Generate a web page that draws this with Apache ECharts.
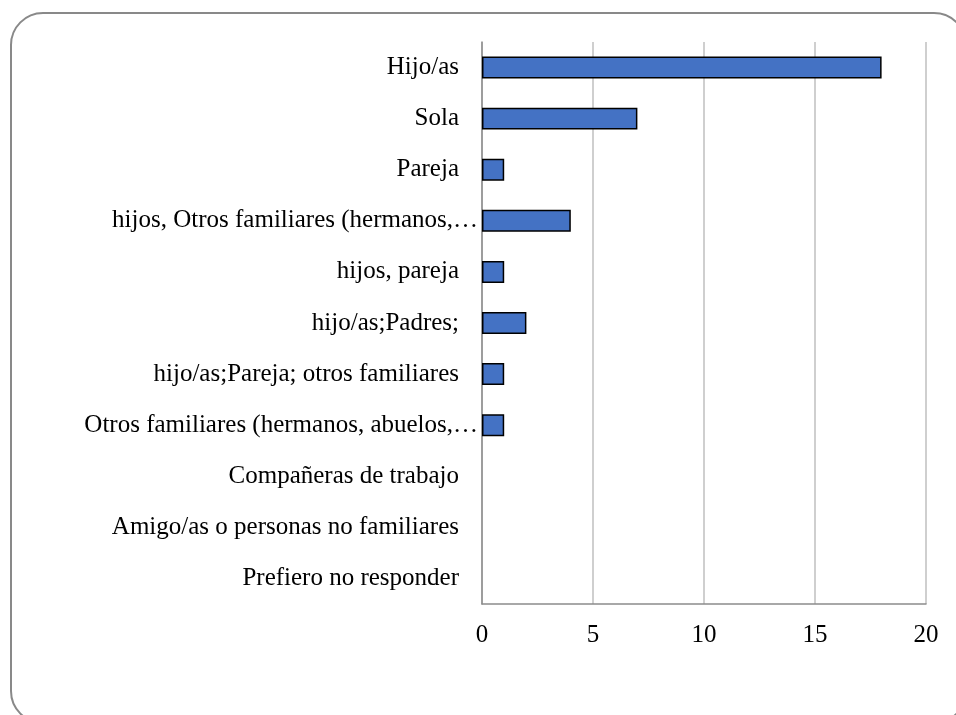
<!DOCTYPE html>
<html>
<head>
<meta charset="utf-8">
<script src="https://cdn.jsdelivr.net/npm/echarts@6/dist/echarts.min.js"></script>
<style>
  html, body { margin: 0; padding: 0; background: #fff; }
  #chart { width: 956px; height: 715px; }
</style>
</head>
<body>
<div id="chart"></div>
<script>
// categories top to bottom, as in the picture
const categories = [
  'Hijo/as',
  'Sola',
  'Pareja',
  'hijos, Otros familiares (hermanos,…',
  'hijos, pareja',
  'hijo/as;Padres;',
  'hijo/as;Pareja; otros familiares',
  'Otros familiares (hermanos, abuelos,…',
  'Compañeras de trabajo',
  'Amigo/as o personas no familiares',
  'Prefiero no responder'
]
const counts = [18, 7, 1, 4, 1, 2, 1, 1, 0, 0, 0]
const xTicks = [0, 5, 10, 15, 20]

const chart = echarts.init(document.getElementById('chart'))

const font = 'Liberation Serif'

const option = {
  backgroundColor: '#fff',
  animation: false,
  graphic: [
    {
      type: 'rect',
      shape: { x: 11, y: 13, width: 955, height: 710, r: 32 },
      style: { fill: 'none', stroke: '#898989', lineWidth: 2 },
      silent: true
    }
  ],
  grid: { left: 482, right: 30, top: 42, bottom: 111 },
  xAxis: {
    type: 'value',
    min: xTicks[0],
    max: xTicks[xTicks.length - 1],
    interval: 5,
    axisLine: { show: true, lineStyle: { color: '#8c8c8c', width: 1.5 } },
    axisTick: { show: false },
    splitLine: { show: true, lineStyle: { color: '#bfbfbf', width: 1.5 } },
    axisLabel: { margin: 19, color: '#000', fontFamily: font, fontSize: 25 }
  },
  yAxis: {
    type: 'category',
    inverse: true,
    data: categories,
    axisLine: { show: true, lineStyle: { color: '#8c8c8c', width: 1.5 } },
    axisTick: { show: false },
    axisLabel: {
      margin: 4,
      color: '#000',
      fontFamily: font,
      fontSize: 25,
      // Excel-style: short labels sit back from the axis, truncated ones run up to it
      formatter: function (v) {
        return v.endsWith('…') ? '{l|' + v + '}' : '{n|' + v + '}'
      },
      rich: {
        n: { fontFamily: font, fontSize: 25, color: '#000', padding: [0, 19, 0, 0] },
        l: { fontFamily: font, fontSize: 25, color: '#000' }
      }
    }
  },
  series: [
    {
      type: 'bar',
      data: counts.map(function (v) {
        return v === 0 ? { value: v, itemStyle: { borderWidth: 0 } } : v
      }),
      barWidth: '43%',
      itemStyle: { color: '#4472c4', borderColor: '#000', borderWidth: 1.5 }
    }
  ]
}

chart.setOption(option)
</script>
</body>
</html>
